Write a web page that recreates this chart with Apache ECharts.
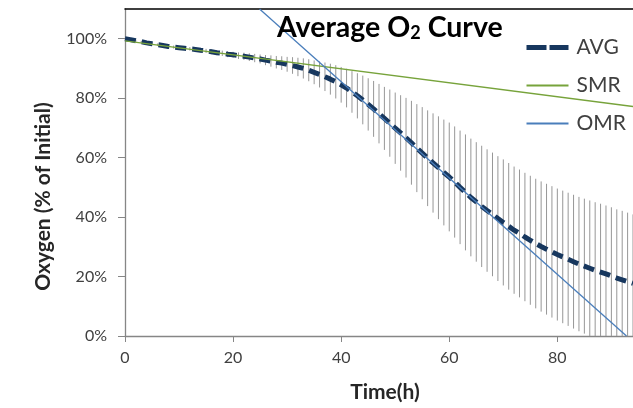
<!DOCTYPE html>
<html><head><meta charset="utf-8">
<script src="https://cdn.jsdelivr.net/npm/echarts@6/dist/echarts.min.js"></script>
<style>html,body{margin:0;padding:0;background:#fff}#c{width:633px;height:408px}</style>
</head><body><div id="c"></div>
<script>
// hours 0..94
const hours = [];
for (let i = 0; i <= 94; i++) hours.push(i);
const avgValues = [100.0,99.7,99.3,99.0,98.6,98.3,98.0,97.7,97.4,97.2,
97.0,96.8,96.6,96.4,96.1,95.9,95.6,95.3,95.1,94.8,
94.6,94.3,94.1,93.8,93.5,93.2,92.8,92.5,92.1,91.8,
91.4,91.0,90.5,90.0,89.4,88.7,88.0,87.2,86.4,85.5,
84.5,83.4,82.1,80.8,79.4,77.9,76.4,74.8,73.2,71.6,
69.9,68.3,66.7,65.0,63.2,61.5,59.8,58.2,56.6,55.0,
53.5,51.8,50.0,48.3,46.6,45.1,43.6,42.2,40.9,39.5,
38.2,36.9,35.6,34.5,33.3,32.2,31.1,30.1,29.2,28.3,
27.4,26.6,25.8,25.0,24.2,23.5,22.8,22.1,21.5,20.9,
20.2,19.5,18.9,18.3,17.7];
const sdValues = [0.2,0.2,0.3,0.3,0.3,0.4,0.4,0.4,0.5,0.5,
0.5,0.6,0.6,0.6,0.7,0.7,0.8,0.8,0.9,1.0,
1.0,1.1,1.2,1.3,1.4,1.5,1.7,1.9,2.1,2.3,
2.5,2.8,3.1,3.4,3.7,4.0,4.4,4.8,5.2,5.6,
6.0,6.5,7.0,7.6,8.2,8.8,9.4,10.0,10.6,11.3,
12.0,12.7,13.4,14.1,14.8,15.5,16.1,16.7,17.3,17.8,
18.3,18.7,19.1,19.5,19.8,20.1,20.4,20.6,20.8,21.0,
21.2,21.3,21.4,21.5,21.6,21.7,21.8,21.9,22.0,22.1,
22.2,22.3,22.4,22.5,22.6,22.7,22.8,22.9,23.0,23.0,
23.1,23.1,23.2,23.2,23.2];
const smrPoints = [[0, 99.3], [94, 77.2]];
const omrPoints = [[24.9, 110], [92.8, 0]];
const xTicks = [0, 20, 40, 60, 80];
const yTicks = [0, 20, 40, 60, 80, 100];

const avgData = hours.map((h, i) => [h, avgValues[i]]);
const errData = hours.map((h, i) => [h, avgValues[i], sdValues[i]]);

const FONT = 'Lato';
const chart = echarts.init(document.getElementById('c'), null, {renderer: 'canvas'});
chart.setOption({
  animation: false,
  backgroundColor: '#ffffff',
  textStyle: {fontFamily: FONT},
  title: {
    text: 'Average O{sub|2} Curve',
    left: 272, top: 8,
    textStyle: {
      fontFamily: FONT, fontWeight: 'bold', fontSize: 28.5, color: '#000',
      rich: {sub: {fontFamily: FONT, fontWeight: 'bold', fontSize: 18, color: '#000', verticalAlign: 'bottom', padding: [9, 0, 0, 0]}}
    }
  },
  legend: {
    data: [
      {name: 'AVG', lineStyle: {type: [20, 3], width: 5}},
      {name: 'SMR'},
      {name: 'OMR'}
    ],
    orient: 'vertical',
    left: 524, top: 37, padding: 0,
    itemWidth: 42, itemHeight: 14, itemGap: 17,
    itemStyle: {opacity: 0, borderWidth: 0},
    textStyle: {fontFamily: FONT, fontSize: 21, color: '#404040', lineHeight: 21, padding: [0, 0, 0, 3]}
  },
  grid: {left: 125, right: 0, top: 9, bottom: 71, containLabel: false},
  xAxis: [{
    type: 'value', min: 0, max: 94, interval: 20,
    name: 'Time(h)', nameLocation: 'middle', nameGap: 46,
    nameTextStyle: {fontFamily: FONT, fontWeight: 'bold', fontSize: 21, color: '#262626', padding: [0, 0, 0, 12]},
    axisLine: {show: true, lineStyle: {color: '#868686', width: 1.3}},
    axisTick: {show: true, length: 6, lineStyle: {color: '#868686'}},
    axisLabel: {fontFamily: FONT, fontSize: 16, color: '#404040', margin: 14, showMaxLabel: false,
      formatter: v => xTicks.indexOf(v) >= 0 ? String(v) : ''},
    splitLine: {show: false}
  }, {
    type: 'value', min: 0, max: 94, position: 'top',
    axisLine: {show: true, lineStyle: {color: '#000', width: 1.5}},
    axisTick: {show: false}, axisLabel: {show: false}, splitLine: {show: false}
  }],
  yAxis: {
    type: 'value', min: 0, max: 110, interval: 20,
    name: 'Oxygen (% of Initial)', nameLocation: 'middle', nameGap: 71, nameRotate: 90,
    nameTextStyle: {fontFamily: FONT, fontWeight: 'bold', fontSize: 21, color: '#262626', padding: [0, 48, 0, 0]},
    axisLine: {show: true, lineStyle: {color: '#868686', width: 1.3}},
    axisTick: {show: true, length: 7, lineStyle: {color: '#868686'}},
    axisLabel: {fontFamily: FONT, fontSize: 16, color: '#404040', margin: 18, showMaxLabel: false,
      formatter: v => yTicks.indexOf(v) >= 0 ? v + '%' : ''},
    splitLine: {show: false}
  },
  series: [{
    name: 'err', type: 'custom', clip: true, silent: true,
    data: errData,
    renderItem: function (params, api) {
      const t = api.value(0), a = api.value(1), s = api.value(2);
      const p1 = api.coord([t, a + s]);
      const p2 = api.coord([t, Math.max(0, a - s)]);
      return {type: 'line', shape: {x1: p1[0], y1: p1[1], x2: p2[0], y2: p2[1]},
        style: {stroke: '#979797', lineWidth: 1}};
    },
    z: 1
  }, {
    name: 'AVG', type: 'line', data: avgData, symbol: 'none', smooth: false,
    lineStyle: {color: '#17375e', width: 5, type: [11, 6]},
    itemStyle: {color: '#17375e'}, z: 3
  }, {
    name: 'SMR', type: 'line', data: smrPoints, symbol: 'none',
    lineStyle: {color: '#77a33b', width: 1.3}, itemStyle: {color: '#77a33b'}, z: 4
  }, {
    name: 'OMR', type: 'line', data: omrPoints, symbol: 'none', clip: true,
    lineStyle: {color: '#4a7ebb', width: 1.3}, itemStyle: {color: '#4a7ebb'}, z: 4
  }]
});
</script></body></html>
